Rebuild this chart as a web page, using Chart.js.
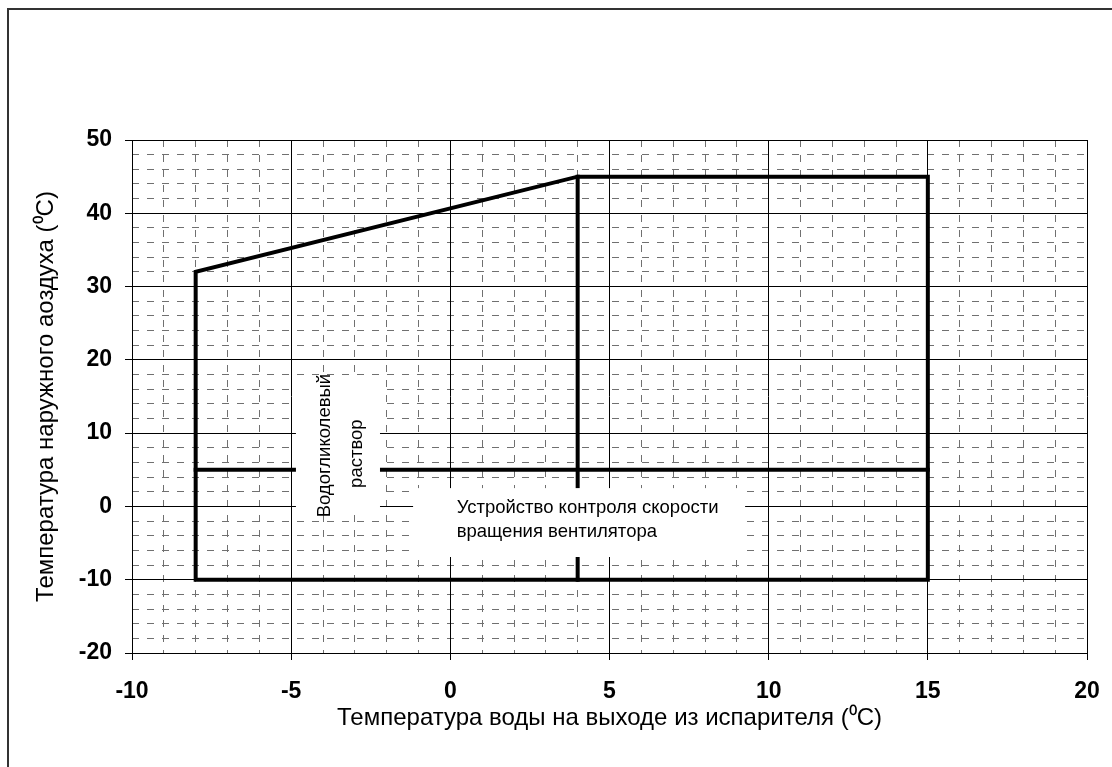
<!DOCTYPE html>
<html>
<head>
<meta charset="utf-8">
<script src="https://cdn.jsdelivr.net/npm/chart.js@4.4.1/dist/chart.umd.min.js"></script>
<style>
  html, body { margin: 0; padding: 0; background: #fff; overflow: hidden; }
  .frame {
    position: absolute; left: 7px; top: 8px; width: 1300px; height: 1000px;
    border: 2px solid #333;
  }
  .chart-box { position: absolute; left: 0; top: 0; width: 1112px; height: 767px; }
</style>
</head>
<body>
<div class="frame"></div>
<div class="chart-box"><canvas id="envelopeChart"></canvas></div>
<script>
const canvasChart = document.getElementById("envelopeChart");

// рабочая область (контур)
const outlineX = [-8, -8, 4, 15, 15, -8];
const outlineY = [-10, 32, 45, 45, -10, -10];
// разделитель при 4 °C
const dividerX = [4, 4];
const dividerY = [45, -10];
// граница для регулятора вентилятора (5 °C)
const fanLineX = [-8, 15];
const fanLineY = [5, 5];

const xTickValues = [-10, -5, 0, 5, 10, 15, 20];
const yTickValues = [-20, -10, 0, 10, 20, 30, 40, 50];

const xTitle = "Температура воды на выходе из испарителя (⁰C)";
const yTitle = "Температура наружного аоздуха (⁰C)";
const glycolLabel = ["Водогликолевый", "раствор"];
const fanLabel = ["Устройство контроля скорости", "вращения вентилятора"];

function toPoints(xs, ys) {
  return xs.map((x, i) => ({ x: x, y: ys[i] }));
}

function lineSet(xs, ys) {
  return {
    data: toPoints(xs, ys),
    showLine: true,
    borderColor: "#000",
    borderWidth: 4,
    borderCapStyle: "square",
    borderJoinStyle: "miter",
    pointRadius: 0,
    tension: 0,
  };
}

const fontFamily = '"Liberation Sans", Arial, sans-serif';

// белые подложки с надписями поверх линий
const labelBoxes = {
  id: "labelBoxes",
  afterDatasetsDraw(chart) {
    const ctx = chart.ctx;
    const xs = chart.scales.x;
    const ys = chart.scales.y;
    const px = (v) => xs.getPixelForValue(v);
    const py = (v) => ys.getPixelForValue(v);

    ctx.save();
    ctx.fillStyle = "#fff";
    ctx.fillRect(px(-4.85), py(17.3), px(-2.21) - px(-4.85), py(-1.15) - py(17.3));
    ctx.fillRect(px(-1.17), py(2.5), px(9.26) - px(-1.17), py(-6.9) - py(2.5));

    ctx.fillStyle = "#000";
    ctx.font = "18.5px " + fontFamily;
    ctx.textBaseline = "middle";

    ctx.textAlign = "center";
    [[-3.95, 8.3], [-2.93, 7.2]].forEach((pos, i) => {
      ctx.save();
      ctx.translate(px(pos[0]), py(pos[1]));
      ctx.rotate(-Math.PI / 2);
      ctx.fillText(glycolLabel[i], 0, 0);
      ctx.restore();
    });

    ctx.textAlign = "left";
    ctx.fillText(fanLabel[0], px(0.2), py(-0.2));
    ctx.fillText(fanLabel[1], px(0.2), py(-3.5));
    ctx.restore();
  },
};

const minorGrid = "#707070";

const myChart = new Chart(canvasChart, {
  type: "scatter",
  data: {
    datasets: [
      lineSet(outlineX, outlineY),
      lineSet(dividerX, dividerY),
      lineSet(fanLineX, fanLineY),
    ],
  },
  options: {
    responsive: true,
    maintainAspectRatio: false,
    animation: false,
    layout: { padding: { left: 0, top: 140, right: 25, bottom: 0 } },
    plugins: {
      legend: { display: false },
      tooltip: { enabled: false },
    },
    scales: {
      xMinor: {
        type: "linear",
        position: "bottom",
        min: -10,
        max: 20,
        z: -1,
        ticks: { display: false, stepSize: 1 },
        grid: {
          drawTicks: false,
          color: (c) => (c.tick && c.tick.value % 5 === 0 ? "rgba(0,0,0,0)" : minorGrid),
        },
        border: { display: false, dash: [7, 8] },
      },
      yMinor: {
        type: "linear",
        position: "left",
        min: -20,
        max: 50,
        z: -1,
        ticks: { display: false, stepSize: 2 },
        grid: {
          drawTicks: false,
          color: (c) => (c.tick && c.tick.value % 10 === 0 ? "rgba(0,0,0,0)" : minorGrid),
        },
        border: { display: false, dash: [7, 8] },
      },
      x: {
        type: "linear",
        position: "bottom",
        min: -10,
        max: 20,
        afterBuildTicks: (scale) => {
          scale.ticks = xTickValues.map((v) => ({ value: v }));
        },
        afterFit: (scale) => {
          scale.height = 114;
          scale.paddingRight = 16;
        },
        ticks: {
          color: "#000",
          padding: 18,
          font: { family: fontFamily, size: 23, weight: "bold" },
        },
        grid: { color: "#000", lineWidth: 1, tickLength: 7 },
        border: { color: "#000", width: 1 },
        title: {
          display: true,
          text: xTitle,
          color: "#000",
          font: { family: fontFamily, size: 24 },
          padding: { top: 0, bottom: 34 },
        },
      },
      y: {
        type: "linear",
        position: "left",
        min: -20,
        max: 50,
        afterBuildTicks: (scale) => {
          scale.ticks = yTickValues.map((v) => ({ value: v }));
        },
        afterFit: (scale) => {
          scale.width = 132;
        },
        ticks: {
          color: "#000",
          padding: 13,
          font: { family: fontFamily, size: 23, weight: "bold" },
        },
        grid: { color: "#000", lineWidth: 1, tickLength: 7 },
        border: { color: "#000", width: 1 },
        title: {
          display: true,
          text: yTitle,
          color: "#000",
          font: { family: fontFamily, size: 24 },
          padding: { top: 32, bottom: 0 },
        },
      },
    },
  },
  plugins: [labelBoxes],
});
</script>
</body>
</html>
